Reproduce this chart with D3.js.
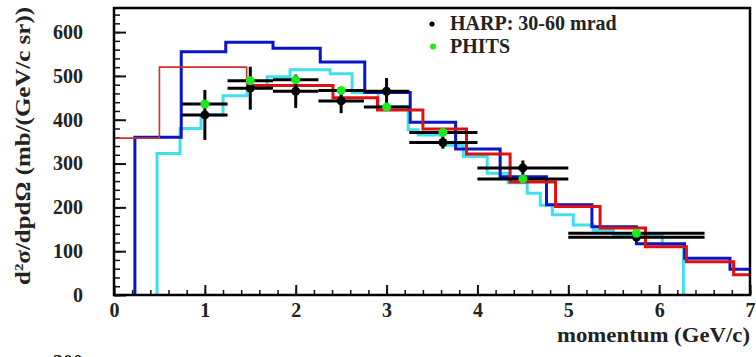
<!DOCTYPE html>
<html>
<head>
<meta charset="utf-8">
<script src="https://cdn.jsdelivr.net/npm/d3@7"></script>
<style>
  html, body { margin: 0; padding: 0; background: #fff; }
  svg { display: block; }
  text { font-family: "Liberation Serif", "DejaVu Serif", serif; font-weight: bold; fill: #222; }
</style>
</head>
<body>
<svg id="chart" width="756" height="357"></svg>
<script>
// HARP data: bins in momentum (GeV/c), value, stat error
const harpLo = [0.75, 1.25, 1.75, 2.25, 2.75, 3.25, 4.0, 5.0];
const harpHi = [1.25, 1.75, 2.25, 2.75, 3.25, 4.0, 5.0, 6.5];
const harpX = [1.0, 1.5, 2.0, 2.5, 3.0, 3.62, 4.5, 5.75];
const harpY = [411, 472, 465, 443, 465, 348, 290, 132];
const harpErr = [57, 49, 38, 28, 30, 14, 17, 8];

// PHITS points share the HARP bins
const phitsY = [436, 489, 491, 467, 429, 371, 265, 141];

// blue histogram
const blueEdges = [0.23, 0.74, 1.23, 1.75, 2.27, 2.76, 3.26, 3.76, 4.25, 4.76, 5.26, 5.75, 6.28, 6.78, 7.0];
const blueVals = [360, 555, 577, 563, 532, 462, 394, 333, 270, 206, 156, 117, 84, 59];

// red histogram
const redEdges = [0.0, 0.5, 1.46, 2.41, 2.9, 3.4, 3.88, 4.36, 4.86, 5.35, 5.85, 6.3, 6.82, 7.0];
const redVals = [358, 520, 478, 450, 422, 379, 322, 258, 202, 153, 110, 76, 46];

// cyan histogram
const cyanEdges = [0.474, 0.727, 0.958, 1.2, 1.465, 1.685, 1.938, 2.379, 2.621, 2.907, 3.238, 3.348,
  3.612, 3.844, 4.108, 4.339, 4.548, 4.692, 4.824, 5.055, 5.275, 5.496, 6.035, 6.267];
const cyanVals = [323, 380, 411, 455, 473, 498, 514, 505, 462, 430, 377, 365,
  342, 316, 278, 256, 232, 205, 183, 160, 148, 137, 112];

const yTicks = [0, 100, 200, 300, 400, 500, 600];
const xTicks = [0, 1, 2, 3, 4, 5, 6, 7];

const svg = d3.select('#chart');
const pLeft = 114, pRight = 750, pTop = 8, pBottom = 295;

const x = d3.scaleLinear().domain([0, 7]).range([pLeft, pRight]);
const y = d3.scaleLinear().domain([0, 655]).range([pBottom, pTop]);

svg.append('defs').append('clipPath').attr('id', 'plot')
  .append('rect').attr('x', pLeft).attr('y', pTop).attr('width', pRight - pLeft).attr('height', pBottom - pTop);

// minor ticks
svg.append('g').attr('transform', `translate(${pLeft},0)`)
  .call(d3.axisLeft(y).tickValues(d3.range(0, 655, 20)).tickSizeInner(-6).tickSizeOuter(0).tickFormat(''))
  .call(g => g.select('.domain').remove())
  .selectAll('line').attr('stroke', '#111').attr('stroke-width', 1.5);
svg.append('g').attr('transform', `translate(0,${pBottom})`)
  .call(d3.axisBottom(x).tickValues(d3.range(0, 7.01, 0.2)).tickSizeInner(-5).tickSizeOuter(0).tickFormat(''))
  .call(g => g.select('.domain').remove())
  .selectAll('line').attr('stroke', '#111').attr('stroke-width', 1.5);

// major ticks and labels
svg.append('g').attr('transform', `translate(${pLeft},0)`)
  .call(d3.axisLeft(y).tickValues(yTicks).tickSizeInner(-12).tickSizeOuter(0).tickPadding(31))
  .call(g => g.select('.domain').remove())
  .call(g => g.selectAll('line').attr('stroke', '#111').attr('stroke-width', 2))
  .call(g => g.selectAll('text').attr('font-size', 20).attr('font-family', null).attr('fill', '#222'));
svg.append('g').attr('transform', `translate(0,${pBottom})`)
  .call(d3.axisBottom(x).tickValues(xTicks).tickFormat(d3.format('d'))
    .tickSizeInner(-10).tickSizeOuter(0).tickPadding(8))
  .call(g => g.select('.domain').remove())
  .call(g => g.selectAll('line').attr('stroke', '#111').attr('stroke-width', 2))
  .call(g => g.selectAll('text').attr('font-size', 20).attr('font-family', null).attr('fill', '#222'));

// histogram paths
function histPoints(edges, vals, dropEnd) {
  const pts = [[edges[0], 0]];
  vals.forEach((v, i) => pts.push([edges[i], v]));
  pts.push([edges[edges.length - 1], vals[vals.length - 1]]);
  if (dropEnd) pts.push([edges[edges.length - 1], 0]);
  return pts;
}
const step = d3.line().x(d => x(d[0])).y(d => y(d[1])).curve(d3.curveStepAfter);
const plot = svg.append('g').attr('clip-path', 'url(#plot)');

plot.append('path').datum(histPoints(cyanEdges, cyanVals, true))
  .attr('d', step).attr('fill', 'none').attr('stroke', '#3ee0f0').attr('stroke-width', 3);
plot.append('path').datum(histPoints(blueEdges, blueVals, false))
  .attr('d', step).attr('fill', 'none').attr('stroke', '#0a14c8').attr('stroke-width', 3);

const redPts = histPoints(redEdges, redVals, false);
plot.append('path').datum(redPts.slice(0, 4))
  .attr('d', step).attr('fill', 'none').attr('stroke', '#d03030').attr('stroke-width', 1.6);
plot.append('path').datum(redPts.slice(3))
  .attr('d', step).attr('fill', 'none').attr('stroke', '#e01010').attr('stroke-width', 3);

// data points with error bars
const pts = plot.append('g');
harpX.forEach((px, i) => {
  pts.append('line').attr('x1', x(harpLo[i])).attr('x2', x(harpHi[i]))
    .attr('y1', y(harpY[i])).attr('y2', y(harpY[i])).attr('stroke', '#000').attr('stroke-width', 3);
  pts.append('line').attr('x1', x(px)).attr('x2', x(px))
    .attr('y1', y(harpY[i] - harpErr[i])).attr('y2', y(harpY[i] + harpErr[i])).attr('stroke', '#000').attr('stroke-width', 3);
  pts.append('line').attr('x1', x(harpLo[i])).attr('x2', x(harpHi[i]))
    .attr('y1', y(phitsY[i])).attr('y2', y(phitsY[i])).attr('stroke', '#000').attr('stroke-width', 3);
});
pts.selectAll('circle.harp').data(harpX).join('circle').attr('class', 'harp')
  .attr('cx', d => x(d)).attr('cy', (d, i) => y(harpY[i])).attr('r', 4.5).attr('fill', '#000');
pts.selectAll('circle.phits').data(harpX).join('circle').attr('class', 'phits')
  .attr('cx', d => x(d)).attr('cy', (d, i) => y(phitsY[i])).attr('r', 4.5).attr('fill', '#1ee81e');

// frame
svg.append('rect').attr('x', pLeft).attr('y', pTop).attr('width', pRight - pLeft).attr('height', pBottom - pTop)
  .attr('fill', 'none').attr('stroke', '#000').attr('stroke-width', 2.5);

// legend
const legend = svg.append('g');
legend.append('circle').attr('cx', 432).attr('cy', 24).attr('r', 2.6).attr('fill', '#000');
legend.append('text').attr('x', 450).attr('y', 30).attr('font-size', 20).text('HARP: 30-60 mrad');
legend.append('circle').attr('cx', 433).attr('cy', 46.5).attr('r', 3).attr('fill', '#1ee81e');
legend.append('text').attr('x', 450).attr('y', 52.5).attr('font-size', 20).text('PHITS');

// axis titles
svg.append('text').attr('x', 750).attr('y', 342).attr('text-anchor', 'end').attr('font-size', 20)
  .attr('textLength', 193).attr('lengthAdjust', 'spacingAndGlyphs')
  .text('momentum (GeV/c)');

const yt = svg.append('text').attr('transform', 'translate(30,146) rotate(-90)')
  .attr('text-anchor', 'middle').attr('font-size', 20)
  .attr('textLength', 278).attr('lengthAdjust', 'spacingAndGlyphs');
yt.append('tspan').text('d');
yt.append('tspan').attr('dy', -7).attr('font-size', 12).text('2');
yt.append('tspan').attr('dy', 7).text('σ/dpdΩ  (mb/(GeV/c sr))');

// top of the next panel's label, cut off by the window edge
svg.append('text').attr('x', 83).attr('y', 369).attr('text-anchor', 'end').attr('font-size', 20).text('300');
</script>
</body>
</html>
